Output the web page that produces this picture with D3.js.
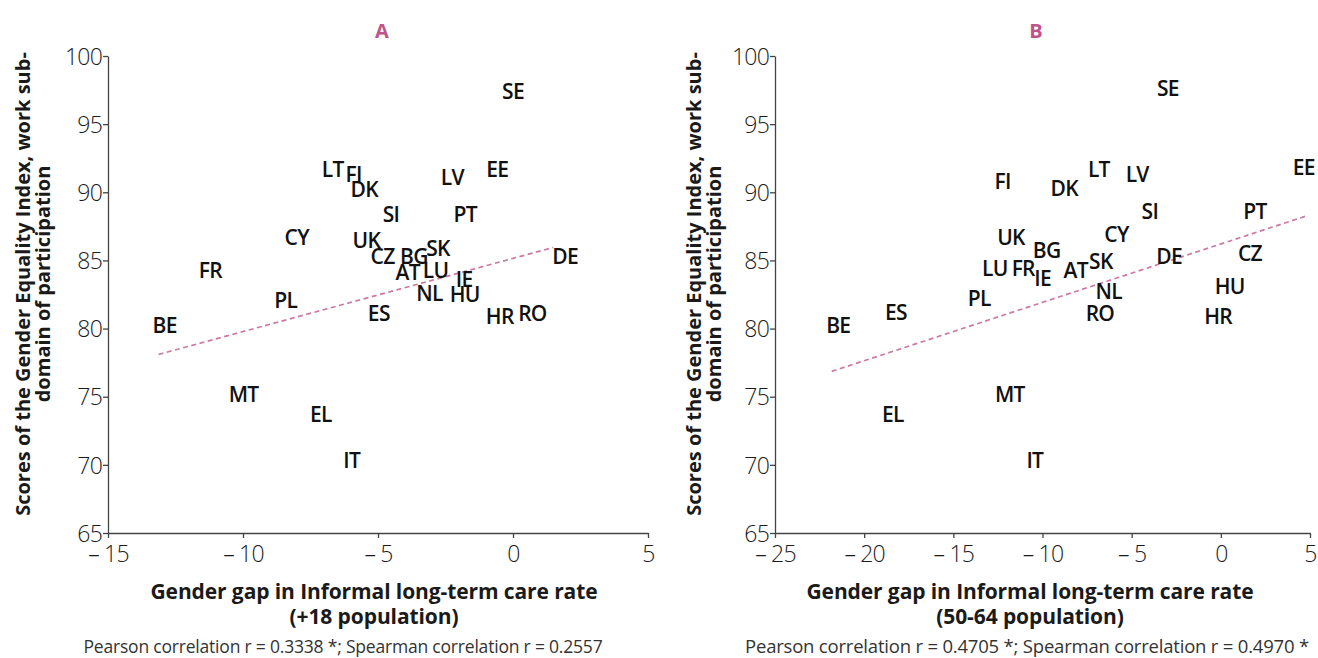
<!DOCTYPE html>
<html>
<head>
<meta charset="utf-8">
<script src="https://cdn.jsdelivr.net/npm/d3@7"></script>
<style>
  html, body { margin: 0; padding: 0; background: #ffffff; }
  svg { display: block; font-family: "Open Sans", "Noto Sans", sans-serif; }
</style>
</head>
<body>
<svg id="chart" width="1318" height="658"></svg>
<script>
// ---- data ----
const countries = ["SE","LT","FI","DK","LV","EE","SI","PT","CY","UK","CZ","BG","SK","DE","FR","AT","LU","IE","NL","HU","PL","ES","HR","RO","BE","MT","EL","IT"];

// Panel A: gender gap in informal LTC rate (+18 population)
const gapA   = [0.0,-6.68,-5.90,-5.51,-2.25,-0.58,-4.52,-1.77,-8.01,-5.43,-4.83,-3.67,-2.78,1.93,-11.21,-3.90,-2.87,-1.81,-3.09,-1.79,-8.42,-4.97,-0.49,0.72,-12.9,-9.98,-7.12,-5.97];
const scoreA = [97.4,91.7,91.3,90.2,91.1,91.7,88.4,88.4,86.7,86.5,85.3,85.3,85.9,85.3,84.3,84.1,84.3,83.6,82.6,82.5,82.1,81.1,80.9,81.1,80.2,75.2,73.7,70.3];

// Panel B: gender gap in informal LTC rate (50-64 population)
const gapB   = [-2.97,-6.84,-12.24,-8.78,-4.69,4.65,-3.98,1.91,-5.85,-11.77,1.63,-9.77,-6.73,-2.90,-11.08,-8.14,-12.67,-9.99,-6.28,0.50,-13.55,-18.22,-0.15,-6.78,-21.45,-11.83,-18.39,-10.43];
const scoreB = [97.6,91.7,90.8,90.3,91.3,91.8,88.6,88.6,86.9,86.7,85.5,85.7,84.9,85.3,84.4,84.3,84.4,83.7,82.7,83.1,82.2,81.2,80.9,81.1,80.25,75.2,73.7,70.3];

// Linear trend line end points (x, y)
const trendA = [[-13.13, 78.1], [1.49, 85.95]];
const trendB = [[-21.82, 76.86], [4.88, 88.3]];

const yTicks  = [65, 70, 75, 80, 85, 90, 95, 100];
const xTicksA = [-15, -10, -5, 0, 5];
const xTicksB = [-25, -20, -15, -10, -5, 0, 5];

const panelTitles = ["A", "B"];
const yTitle = ["Scores of the Gender Equality Index, work sub-", "domain of participation"];
const xTitle1 = "Gender gap in Informal long-term care rate";
const xTitle2 = ["(+18 population)", "(50-64 population)"];
const footnotes = [
  "Pearson correlation r = 0.3338 *; Spearman correlation r = 0.2557",
  "Pearson correlation r = 0.4705 *; Spearman correlation r = 0.4970 *"
];

// ---- drawing ----
const svg = d3.select("#chart");
const pink = "#c0538a";
const trendColor = "#cc7aa3";
const axisColor = "#444444";

function fmtTick(d) {
  return d < 0 ? "\u2013 " + Math.abs(d) : String(d);
}

function panel(cfg) {
  const x = d3.scaleLinear().domain(cfg.xDomain).range(cfg.xRange);
  const y = d3.scaleLinear().domain([65, 100]).range([533, 56]);
  const g = svg.append("g");

  // title
  g.append("text")
    .attr("x", cfg.titleX).attr("y", 38)
    .attr("text-anchor", "middle")
    .attr("font-size", 20).attr("font-weight", 700)
    .attr("fill", pink)
    .text(cfg.title);

  // y axis
  const yAxis = g.append("g")
    .attr("transform", `translate(${cfg.xRange[0]},0)`)
    .call(d3.axisLeft(y).tickValues(yTicks).tickSize(5).tickSizeOuter(0).tickPadding(1));
  yAxis.select(".domain").attr("stroke", axisColor).attr("stroke-width", 1.3);
  yAxis.selectAll(".tick line").attr("stroke", axisColor).attr("stroke-width", 1.3);
  yAxis.selectAll(".tick text")
    .attr("font-family", "Open Sans").attr("font-weight", 300)
    .attr("font-size", 23).attr("fill", "#1a1a1a").attr("letter-spacing", -0.8)
    .attr("dy", "0.36em");

  // x axis
  const xAxis = g.append("g")
    .attr("transform", `translate(0,533)`)
    .call(d3.axisBottom(x).tickValues(cfg.xTicks).tickFormat(fmtTick).tickSize(5).tickSizeOuter(0).tickPadding(8));
  xAxis.select(".domain").attr("stroke", axisColor).attr("stroke-width", 1.3);
  xAxis.selectAll(".tick line").attr("stroke", axisColor).attr("stroke-width", 1.3);
  xAxis.selectAll(".tick text")
    .attr("font-family", "Open Sans").attr("font-weight", 300)
    .attr("font-size", 23).attr("fill", "#1a1a1a").attr("letter-spacing", -0.8);

  // y axis title
  const yt = g.append("text")
    .attr("transform", `translate(${cfg.yTitleX},284) rotate(-90)`)
    .attr("text-anchor", "middle")
    .attr("font-size", 20).attr("font-weight", 700).attr("fill", "#1a1a1a");
  yt.append("tspan").attr("x", 0).attr("dy", "0.35em").text(yTitle[0]);
  yt.append("tspan").attr("x", 0).attr("dy", 19.5).text(yTitle[1]);

  // x axis title
  g.append("text")
    .attr("x", cfg.xTitleX).attr("y", 599)
    .attr("text-anchor", "middle")
    .attr("font-size", 21).attr("font-weight", 700).attr("fill", "#1a1a1a")
    .attr("letter-spacing", -0.1)
    .text(xTitle1);
  g.append("text")
    .attr("x", cfg.xTitleX).attr("y", 624)
    .attr("text-anchor", "middle")
    .attr("font-size", 21).attr("font-weight", 700).attr("fill", "#1a1a1a")
    .attr("letter-spacing", -0.1)
    .text(cfg.xTitle2);

  // footnote
  g.append("text")
    .attr("x", cfg.footX).attr("y", 653)
    .attr("text-anchor", "middle")
    .attr("font-size", cfg.footSize).attr("font-weight", 400).attr("fill", "#333")
    .attr("letter-spacing", -0.2)
    .text(cfg.foot);

  // trend line
  g.append("line")
    .attr("x1", x(cfg.trend[0][0])).attr("y1", y(cfg.trend[0][1]))
    .attr("x2", x(cfg.trend[1][0])).attr("y2", y(cfg.trend[1][1]))
    .attr("stroke", trendColor).attr("stroke-width", 1.7)
    .attr("stroke-dasharray", "5,3.5");

  // country labels
  g.selectAll("text.lbl")
    .data(countries.map((c, i) => ({ c, gx: cfg.gap[i], s: cfg.score[i] })))
    .enter().append("text")
    .attr("class", "lbl")
    .attr("x", d => x(d.gx)).attr("y", d => y(d.s))
    .attr("dy", "0.36em")
    .attr("text-anchor", "middle")
    .attr("font-size", 21).attr("font-weight", 600).attr("fill", "#111")
    .attr("letter-spacing", -0.7)
    .text(d => d.c);
}

panel({
  title: panelTitles[0], titleX: 382,
  xDomain: [-15, 5], xRange: [108, 648], xTicks: xTicksA,
  gap: gapA, score: scoreA, trend: trendA,
  yTitleX: 23, xTitleX: 374, xTitle2: xTitle2[0],
  footX: 343, footSize: 17.5, foot: footnotes[0]
});
panel({
  title: panelTitles[1], titleX: 1036,
  xDomain: [-25, 5], xRange: [775, 1310], xTicks: xTicksB,
  gap: gapB, score: scoreB, trend: trendB,
  yTitleX: 694, xTitleX: 1030, xTitle2: xTitle2[1],
  footX: 1027, footSize: 18.5, foot: footnotes[1]
});
</script>
</body>
</html>
